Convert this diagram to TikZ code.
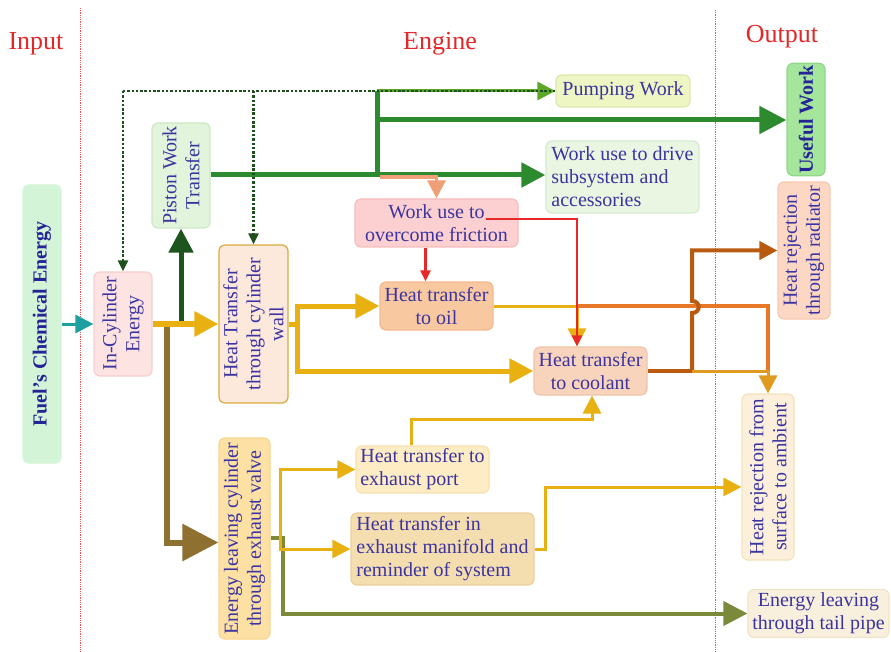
\documentclass[tikz,border=0pt]{standalone}
\usepackage{fontspec}
\setmainfont{Liberation Serif}
\usetikzlibrary{arrows.meta,positioning}

\definecolor{hdred}{RGB}{226,40,40}
\definecolor{txtblue}{RGB}{60,52,160}
\definecolor{boldblue}{RGB}{36,36,150}
\definecolor{tealc}{RGB}{30,160,160}
\definecolor{yel}{RGB}{232,176,16}
\definecolor{dkgreen}{RGB}{30,84,30}
\definecolor{grn}{RGB}{46,138,46}
\definecolor{ltgrn}{RGB}{92,166,40}
\definecolor{dotgrn}{RGB}{30,80,30}
\definecolor{brn}{RGB}{142,112,48}
\definecolor{olive}{RGB}{122,138,58}
\definecolor{salmon}{RGB}{240,160,120}
\definecolor{redl}{RGB}{232,40,40}
\definecolor{orng}{RGB}{232,120,40}
\definecolor{rust}{RGB}{184,90,16}
\definecolor{amber}{RGB}{224,154,32}
% box fills
\definecolor{fuelf}{RGB}{212,244,216}
\definecolor{incf}{RGB}{253,228,226}
\definecolor{incd}{RGB}{246,206,206}
\definecolor{pisf}{RGB}{226,244,220}
\definecolor{pisd}{RGB}{204,232,196}
\definecolor{wallf}{RGB}{253,232,220}
\definecolor{walld}{RGB}{216,170,64}
\definecolor{valf}{RGB}{253,224,164}
\definecolor{vald}{RGB}{248,214,140}
\definecolor{pumpf}{RGB}{238,246,196}
\definecolor{pumpd}{RGB}{220,232,176}
\definecolor{usef}{RGB}{166,230,156}
\definecolor{used}{RGB}{144,216,136}
\definecolor{drvf}{RGB}{234,246,226}
\definecolor{drvd}{RGB}{212,234,208}
\definecolor{fricf}{RGB}{252,208,208}
\definecolor{fricd}{RGB}{248,188,188}
\definecolor{oilf}{RGB}{248,200,160}
\definecolor{oild}{RGB}{244,184,144}
\definecolor{coolf}{RGB}{248,212,188}
\definecolor{coold}{RGB}{240,196,168}
\definecolor{radf}{RGB}{252,216,196}
\definecolor{radd}{RGB}{248,200,176}
\definecolor{ambf}{RGB}{252,240,220}
\definecolor{ambd}{RGB}{244,226,184}
\definecolor{portf}{RGB}{253,236,196}
\definecolor{portd}{RGB}{248,224,176}
\definecolor{manif}{RGB}{244,222,176}
\definecolor{manid}{RGB}{236,208,156}
\definecolor{tailf}{RGB}{248,240,220}
\definecolor{taild}{RGB}{240,228,200}

\newcommand{\boxfont}{\fontsize{20}{23}\selectfont}

\begin{document}
\begin{tikzpicture}[
    x=1pt, y=-1pt,
    box/.style={draw, rounded corners=6pt, line width=1.2pt, inner sep=2pt, align=center, text=txtblue, font=\boxfont},
    vbox/.style={box, rotate=90}, % turned boxes: north = left, south = right, east = top, west = bottom
    header/.style={text=hdred, font=\fontsize{26}{30}\selectfont},
    divider/.style={draw=hdred!80, densely dotted, line width=0.8pt},
    dotline/.style={dotgrn, line width=2.5pt, dash pattern=on 2.5pt off 1.8pt},
    bigarr/.style={-{Triangle[length=24pt,width=24pt]}},
    midarr/.style={-{Triangle[length=18pt,width=18pt]}},
    smallarr/.style={-{Triangle[length=11pt,width=10pt]}},
    line join=miter
]
    \useasboundingbox (0,0) rectangle (891,652);

    % --- 1. Regions ---
    \draw[divider] (80,8) -- (80,652);
    \draw[divider] (715,10) -- (715,652);
    \node[header] (hin) at (36,44) {Input};
    \node[header] (heng) at (440,44) {Engine};
    \node[header] (hout) at (782,37) {Output};

    % --- 2. Boxes ---
    \node[vbox, fill=fuelf, draw=fuelf, minimum width=278, minimum height=38, font=\boxfont\bfseries, text=boldblue] (fuel) at (42,324) {Fuel’s Chemical Energy};
    \node[vbox, fill=incf, draw=incd, minimum width=104, minimum height=58] (incyl) at (123,324) {In-Cylinder\\Energy};
    \node[vbox, fill=pisf, draw=pisd, minimum width=105, minimum height=58] (piston) at (181,175.5) {Piston Work\\Transfer};
    \node[vbox, fill=wallf, draw=walld, minimum width=158, minimum height=69] (wall) at (253.5,324) {Heat Transfer\\through cylinder\\wall};
    \node[vbox, fill=valf, draw=vald, minimum width=201, minimum height=51] (valve) at (244.5,538.5) {Energy leaving cylinder\\through exhaust valve};

    \node[box, fill=pumpf, draw=pumpd, minimum width=134, minimum height=32] (pump) at (623,91) {Pumping Work};
    \node[vbox, fill=usef, draw=used, minimum width=109, minimum height=38, font=\boxfont\bfseries, text=boldblue] (useful) at (806,119.5) {Useful Work};
    \node[box, fill=drvf, draw=drvd, minimum width=153, minimum height=72, align=left] (drive) at (622.5,177) {Work use to drive\\subsystem and\\accessories};
    \node[box, fill=fricf, draw=fricd, minimum width=163, minimum height=48] (fric) at (436.5,223) {Work use to\\overcome friction};
    \node[box, fill=oilf, draw=oild, minimum width=113, minimum height=48] (oil) at (436.5,306) {Heat transfer\\to oil};
    \node[box, fill=coolf, draw=coold, minimum width=113, minimum height=48] (cool) at (590.5,371) {Heat transfer\\to coolant};
    \node[vbox, fill=radf, draw=radd, minimum width=137, minimum height=52] (rad) at (804,250.5) {Heat rejection\\through radiator};
    \node[vbox, fill=ambf, draw=ambd, minimum width=166, minimum height=52] (amb) at (768,477) {Heat rejection from\\surface to ambient};
    \node[box, fill=portf, draw=portd, minimum width=133, minimum height=47, align=left] (port) at (422.5,469.5) {Heat transfer to\\exhaust port};
    \node[box, fill=manif, draw=manid, minimum width=183, minimum height=72, align=left] (mani) at (442.5,549) {Heat transfer in\\exhaust manifold and\\reminder of system};
    \node[box, fill=tailf, draw=taild, minimum width=141, minimum height=48] (tail) at (818.5,613.5) {Energy leaving\\through tail pipe};

    % --- 3. Junctions ---
    \coordinate (jBrn) at (167,324);
    \coordinate (jPis) at (377,175);
    \coordinate (jTop) at (377,91);
    \coordinate (jUse) at (377,120);
    \coordinate (jWall) at (297,324);
    \coordinate (jOil) at (577,306);
    \coordinate (jCool) at (692,371);
    \coordinate (jVal) at (283,538);
    \coordinate (jValy) at (280,538);

    % --- 4. Input side ---
    \draw[tealc, line width=3pt, midarr] (fuel.south) -- (incyl.north);
    \draw[brn, line width=6pt, -{Triangle[length=36pt,width=36pt]}] (jBrn) |- ([yshift=-4pt]valve.north);
    \draw[dkgreen, line width=5pt, bigarr] (piston.west |- incyl.south) -- (piston.west);
    \draw[yel, line width=6pt, bigarr] (incyl.south) -- (wall.north);

    % --- 5. Work paths ---
    \draw[ltgrn, line width=3pt, midarr] (jTop) -- (pump.west);
    \draw[grn, line width=5pt] (piston.south |- jPis) -- (jPis) -- (jTop);
    \draw[grn, line width=5pt, -{Triangle[length=27pt,width=27pt]}] (jUse) -- (useful.north |- jUse);
    \draw[grn, line width=5pt, bigarr] (jPis) -- (drive.west |- jPis);
    \draw[salmon, line width=3.5pt, midarr] ([shift={(3,2)}]jPis) -| (fric.north);
    \draw[dotline] (pump.west) -- (incyl.east |- pump.west);
    \draw[dotline, smallarr] (incyl.east |- pump.west) -- (incyl.east);
    \draw[dotline, smallarr] (wall.east |- pump.west) -- (wall.east);

    % --- 6. Heat paths ---
    \draw[yel, line width=5pt] (wall.south) -- (jWall);
    \draw[yel, line width=5pt, bigarr] (jWall) |- (oil.west);
    \draw[yel, line width=5pt, bigarr] (jWall) |- (cool.west);
    \draw[yel, line width=3pt] (oil.east) -- (jOil);
    \draw[yel, line width=3pt, midarr] (jOil) -- (jOil |- cool.north);
    \draw[orng, line width=3.5pt] (jOil) -| (amb.east |- jCool);
    \draw[rust, line width=4pt] (cool.east) -- (jCool);
    \draw[rust, line width=4pt, midarr] (jCool) -- (692,313) .. controls (701,313) and (701,301) .. (692,301) |- (rad.north);
    \draw[amber, line width=3pt, midarr] (jCool) -| (amb.east);
    \draw[redl, line width=2.5pt, smallarr] ([xshift=-11pt]fric.south) -- ([xshift=-11pt]oil.north);
    \draw[redl, line width=2.5pt, smallarr] ([shift={(-33pt,4pt)}]fric.east) -| (jOil |- cool.north);

    % --- 7. Exhaust paths ---
    \draw[olive, line width=4pt, bigarr] (valve.south |- jVal) -- (jVal) |- (tail.west);
    \draw[yel, line width=3pt, midarr] (jValy) |- (port.west);
    \draw[yel, line width=3pt, midarr] (jValy) |- (mani.west);
    \draw[yel, line width=3pt, midarr] ([xshift=-11pt]port.north) -- ++(0,-26) -| ([xshift=1.5pt]cool.south);
    \draw[yel, line width=3pt, midarr] (mani.east) -- ++(11,0) |- ([yshift=-10pt]amb.north);

\end{tikzpicture}
\end{document}
